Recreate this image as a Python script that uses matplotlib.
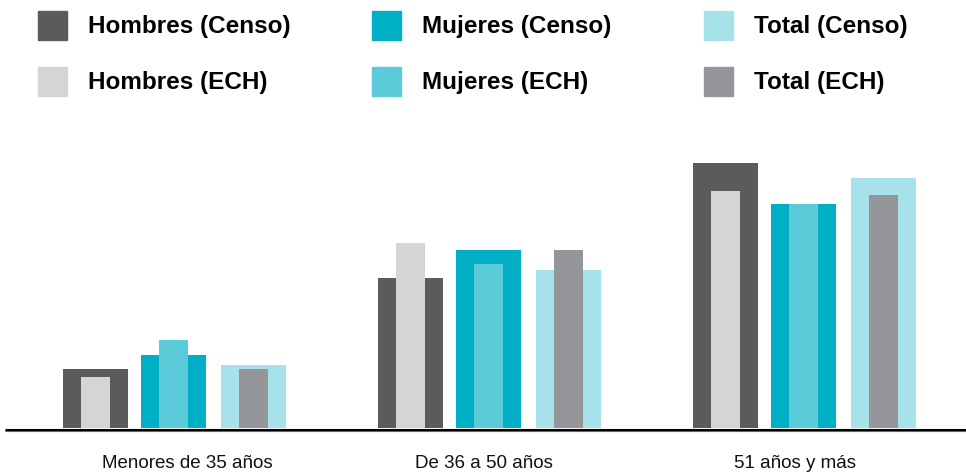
import matplotlib.pyplot as plt
import matplotlib.patches as patches

# Data (chart units, no y axis shown)
categories = ["Menores de 35 años", "De 36 a 50 años", "51 años y más"]
hombres_censo = [59, 150, 265]
hombres_ech = [51, 185, 237]
mujeres_censo = [73, 178, 224]
mujeres_ech = [88, 164, 224]
total_censo = [63, 158, 250]
total_ech = [59, 178, 233]

legend_labels = [["Hombres (Censo)", "Mujeres (Censo)", "Total (Censo)"],
                 ["Hombres (ECH)", "Mujeres (ECH)", "Total (ECH)"]]

c_hom_censo = '#5a5b5d'
c_hom_ech = '#d4d5d7'
c_muj_censo = '#00afc6'
c_muj_ech = '#5bcad9'
c_tot_censo = '#a7e2ea'
c_tot_ech = '#959699'

font = 'Liberation Sans'

W, H = 966, 473
fig = plt.figure(figsize=(W / 100, H / 100), dpi=100)
ax = fig.add_axes([0, 0, 1, 1])
ax.set_xlim(0, W)
ax.set_ylim(-45, 428)
ax.axis('off')

group_step = 315
first_center = 173
offsets = [-78, 0, 80]
wide, thin = 65, 29
label_x = [187, 484, 795]  # category labels are not exactly centred under groups

pairs = [(hombres_censo, hombres_ech, c_hom_censo, c_hom_ech),
         (mujeres_censo, mujeres_ech, c_muj_censo, c_muj_ech),
         (total_censo, total_ech, c_tot_censo, c_tot_ech)]

for i, cat in enumerate(categories):
    gc = first_center + i * group_step
    for off, (censo, ech, cc, ce) in zip(offsets, pairs):
        ax.bar(gc + off, censo[i], width=wide, color=cc, zorder=2)
        ax.bar(gc + off, ech[i], width=thin, color=ce, zorder=3)
    ax.text(label_x[i], -35, cat, ha='center', va='center', fontsize=13.5,
            family=font, color='#111111')

# baseline
ax.plot([5, W], [-1.5, -1.5], color='black', lw=2.2, solid_capstyle='butt', zorder=4)
ax.plot([5, W], [-3.2, -3.2], color='#777777', lw=0.6, solid_capstyle='butt', zorder=4)

# legend drawn by hand
legend_colors = [[c_hom_censo, c_muj_censo, c_tot_censo],
                 [c_hom_ech, c_muj_ech, c_tot_ech]]
col_x = [38, 372, 704]
row_y = [11, 67]
for r in range(2):
    for c in range(3):
        x0, y0 = col_x[c], row_y[r]
        fig.patches.append(patches.Rectangle((x0 / W, 1 - (y0 + 29) / H), 29 / W, 29 / H,
                                             transform=fig.transFigure,
                                             color=legend_colors[r][c]))
        fig.text((x0 + 50) / W, 1 - (y0 + 15) / H, legend_labels[r][c],
                 ha='left', va='center', fontsize=17.5, fontweight='bold',
                 family=font, color='black')

plt.savefig('out.png', dpi=100)
